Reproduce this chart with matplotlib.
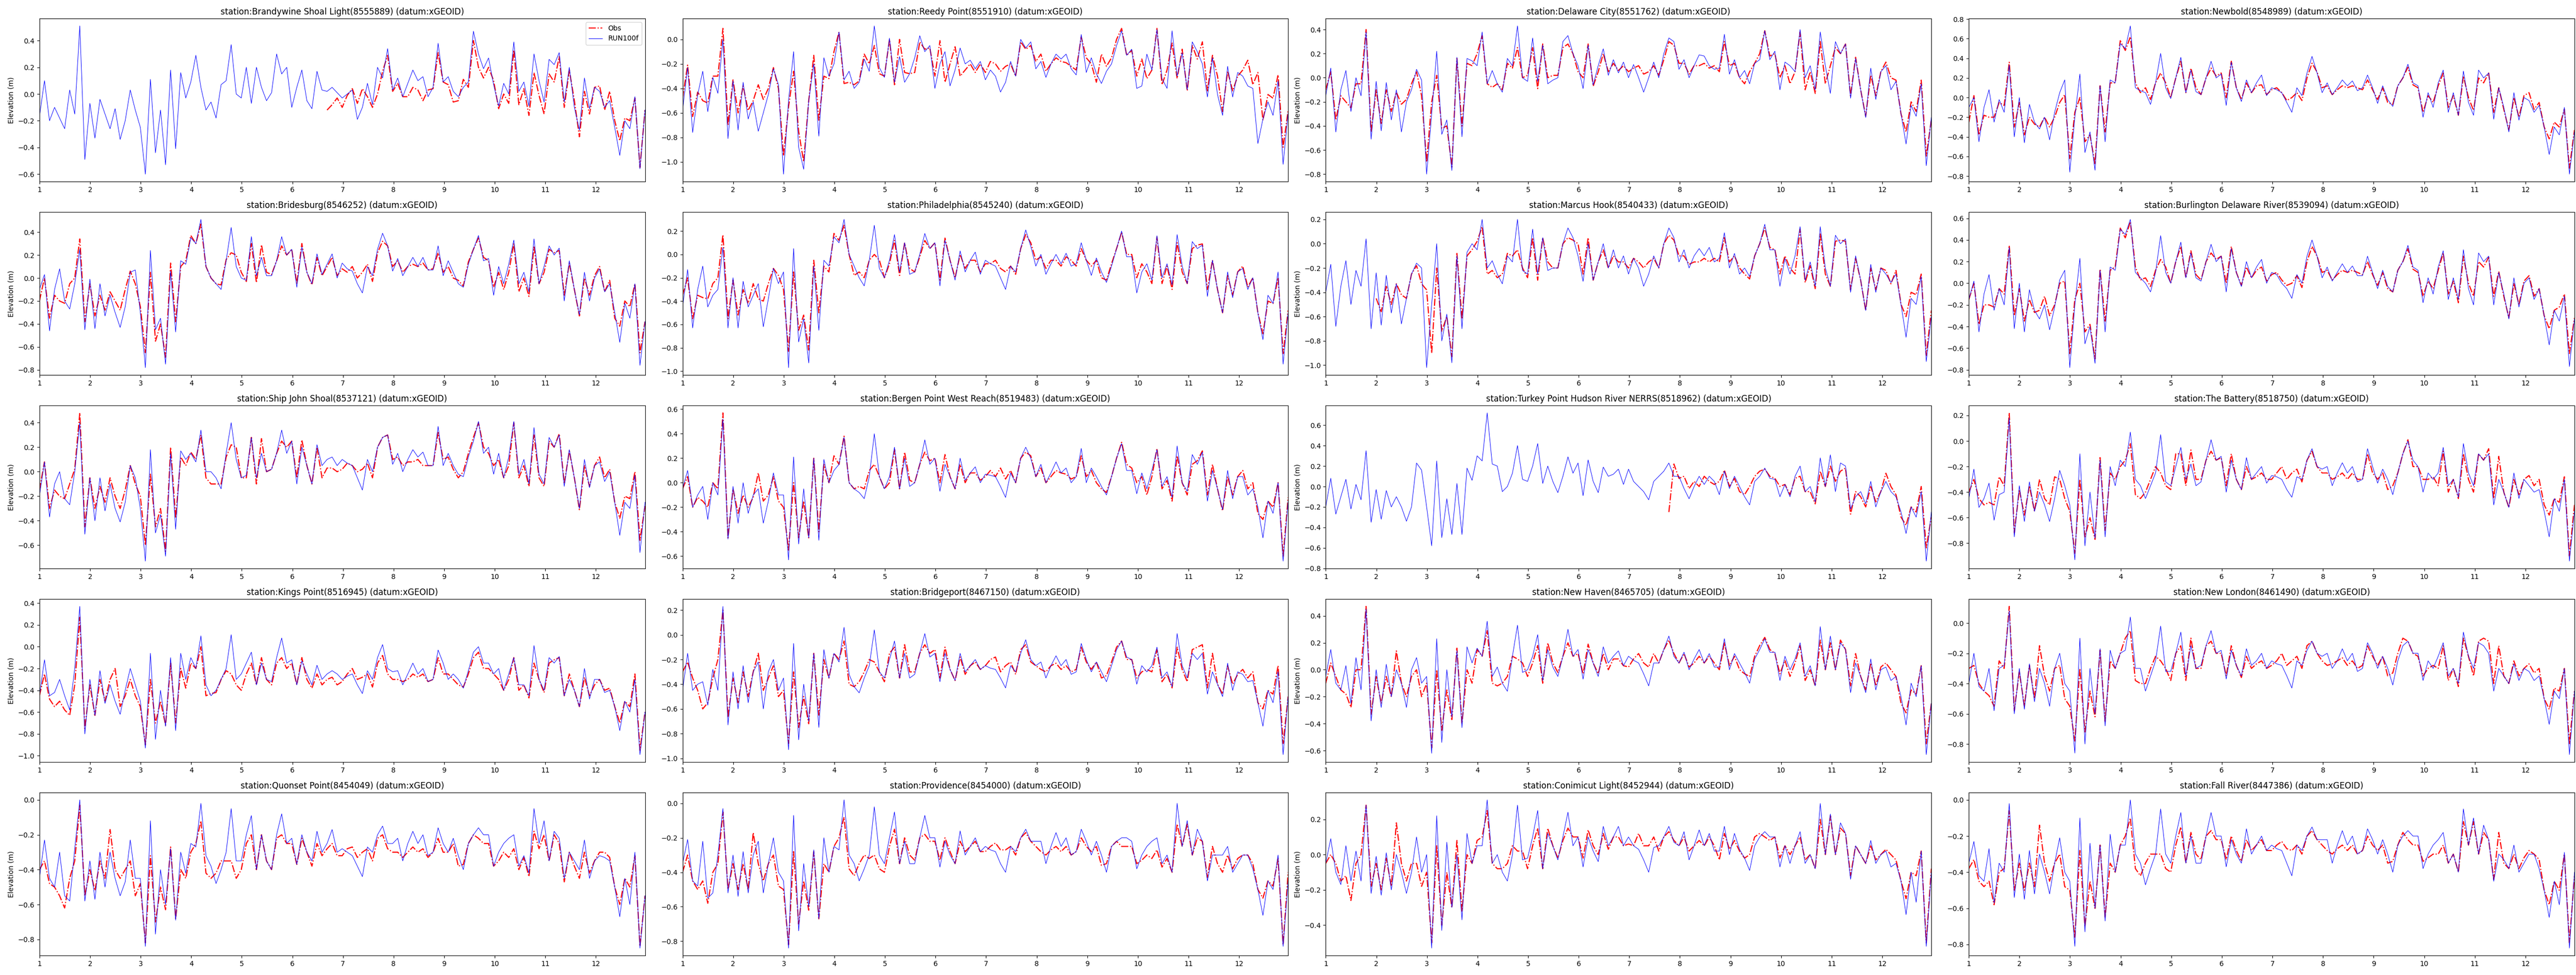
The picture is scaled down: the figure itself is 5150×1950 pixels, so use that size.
import numpy as np
import matplotlib
matplotlib.use("Agg")
import matplotlib.pyplot as plt

# ---------------- data ----------------
T_START = 1.0
T_END = 12.97
XTICKS = list(range(1, 13))

stations = ["Brandywine Shoal Light", "Reedy Point", "Delaware City", "Newbold",
            "Bridesburg", "Philadelphia", "Marcus Hook", "Burlington Delaware River",
            "Ship John Shoal", "Bergen Point West Reach", "Turkey Point Hudson River NERRS", "The Battery",
            "Kings Point", "Bridgeport", "New Haven", "New London",
            "Quonset Point", "Providence", "Conimicut Light", "Fall River"]
station_ids = ["8555889", "8551910", "8551762", "8548989",
               "8546252", "8545240", "8540433", "8539094",
               "8537121", "8519483", "8518962", "8518750",
               "8516945", "8467150", "8465705", "8461490",
               "8454049", "8454000", "8452944", "8447386"]

# number of missing (not observed) samples at the start of each Obs record
obs_missing_start = [57, 0, 0, 0, 0, 0, 10, 0, 0, 0, 68, 0, 0, 0, 0, 0, 0, 0, 0, 0]

run_brandywine = [
    -0.17, 0.1, -0.2, -0.1, -0.18, -0.26, 0.03, -0.15, 0.51, -0.49,
    -0.07, -0.33, -0.04, -0.15, -0.26, -0.11, -0.34, -0.2, 0.03, -0.12,
    -0.25, -0.6, 0.11, -0.44, -0.12, -0.53, 0.18, -0.41, 0.16, -0.03,
    0.09, 0.29, 0.05, -0.12, -0.06, -0.18, 0.07, 0.1, 0.37, 0.0,
    -0.03, 0.2, -0.07, 0.2, 0.05, -0.05, 0.01, 0.3, 0.15, 0.2,
    -0.1, 0.05, 0.18, -0.05, -0.11, 0.17, 0.03, 0.02, 0.05, 0.01,
    -0.03, 0.0, 0.03, -0.19, -0.1, 0.08, -0.08, 0.2, 0.12, 0.34,
    0.03, 0.12, -0.02, 0.08, 0.18, 0.1, 0.13, -0.02, 0.05, 0.38,
    0.09, 0.13, 0.02, -0.02, 0.05, 0.09, 0.47, 0.3, 0.19, 0.27,
    0.07, -0.09, 0.08, 0.0, 0.39, 0.02, 0.09, -0.09, 0.3, 0.1,
    -0.06, 0.26, 0.22, 0.31, -0.06, 0.2, -0.1, -0.27, 0.12, -0.11,
    0.05, 0.02, -0.1, -0.05, -0.25, -0.46, -0.2, -0.26, -0.02, -0.56, -0.12]
obs_brandywine = [
    -0.12, -0.08, -0.03,
    -0.1, -0.01, 0.04, -0.07, 0.04, -0.02, -0.1, 0.0, 0.17, 0.29,
    0.02, 0.08, -0.02, -0.02, 0.05, 0.03, -0.05, 0.03, 0.04, 0.31,
    0.09, 0.07, -0.06, -0.05, 0.11, 0.05, 0.4, 0.2, 0.12, 0.2,
    0.1, -0.11, 0.0, -0.07, 0.33, -0.08, 0.04, -0.16, 0.16, -0.01,
    -0.15, 0.15, 0.09, 0.28, -0.1, 0.18, -0.05, -0.32, 0.02, -0.15,
    0.05, 0.06, -0.12, 0.02, -0.2, -0.35, -0.18, -0.2, -0.03, -0.55, -0.12]

run_reedy = [
    -0.58, -0.23, -0.76, -0.45, -0.26, -0.59, -0.31, -0.44, 0.0, -0.81,
    -0.34, -0.74, -0.35, -0.65, -0.51, -0.75, -0.6, -0.45, -0.24, -0.37,
    -1.1, -0.5, -0.1, -0.88, -1.06, -0.5, -0.2, -0.79, -0.15, -0.3,
    -0.2, 0.06, -0.33, -0.26, -0.4, -0.35, -0.16, -0.26, 0.11, -0.23,
    -0.31, 0.01, -0.35, -0.14, -0.35, -0.28, -0.15, 0.03, -0.1, -0.05,
    -0.4, -0.2, -0.1, -0.38, -0.25, -0.07, -0.2, -0.17, -0.24, -0.18,
    -0.33, -0.25, -0.3, -0.43, -0.35, -0.18, -0.3, 0.0, -0.07, -0.02,
    -0.24, -0.18, -0.31, -0.2, -0.12, -0.16, -0.12, -0.24, -0.29, 0.04,
    -0.27, -0.15, -0.28, -0.36, -0.26, -0.2, -0.05, 0.07, -0.13, -0.08,
    -0.4, -0.38, -0.12, -0.25, 0.08, -0.32, -0.4, 0.07, -0.3, -0.11,
    -0.41, -0.02, -0.1, -0.2, -0.47, -0.15, -0.45, -0.62, -0.22, -0.47,
    -0.27, -0.3, -0.38, -0.4, -0.85, -0.65, -0.51, -0.62, -0.34, -1.02, -0.6]
obs_reedy = [
    -0.48, -0.21, -0.63, -0.43, -0.5, -0.52, -0.3, -0.3, 0.09, -0.7,
    -0.33, -0.6, -0.38, -0.58, -0.5, -0.37, -0.49, -0.4, -0.23, -0.4,
    -0.95, -0.55, -0.26, -0.75, -1.0, -0.5, -0.13, -0.66, -0.3, -0.32,
    -0.1, 0.06, -0.36, -0.35, -0.37, -0.34, -0.12, -0.2, -0.05, -0.28,
    -0.3, 0.0, -0.37, 0.0, -0.27, -0.28, -0.27, -0.02, -0.08, -0.07,
    -0.3, -0.01, -0.35, -0.2, -0.06, -0.3, -0.25, -0.2, -0.27, -0.2,
    -0.27, -0.18, -0.2, -0.26, -0.22, -0.2, -0.3, -0.02, -0.08, -0.05,
    -0.18, -0.12, -0.26, -0.2, -0.15, -0.18, -0.19, -0.22, -0.25, 0.02,
    -0.15, -0.2, -0.35, -0.12, -0.22, -0.15, 0.0, 0.09, -0.13, -0.09,
    -0.3, -0.16, -0.32, -0.25, 0.09, -0.37, -0.25, -0.03, -0.32, -0.08,
    -0.42, -0.05, -0.16, -0.02, -0.42, -0.13, -0.3, -0.59, -0.26, -0.42,
    -0.3, -0.25, -0.17, -0.37, -0.27, -0.66, -0.45, -0.48, -0.29, -0.88, -0.58]

run_delaware_city = [
    -0.15, 0.08, -0.45, -0.1, 0.06, -0.28, 0.0, -0.15, 0.38, -0.51,
    -0.03, -0.44, -0.04, -0.35, -0.1, -0.45, -0.2, -0.1, 0.07, -0.02,
    -0.8, -0.3, 0.22, -0.47, -0.35, -0.77, 0.17, -0.49, 0.16, 0.14,
    0.1, 0.38, -0.05, 0.06, -0.05, -0.12, 0.16, 0.1, 0.43, 0.0,
    -0.03, 0.33, -0.03, 0.27, -0.05, -0.02, 0.0, 0.3, 0.35, 0.2,
    0.1, -0.09, 0.27, -0.06, 0.1, 0.24, 0.02, 0.15, 0.04, 0.13,
    0.0, 0.11, 0.0, -0.12, 0.0, 0.13, 0.0, 0.2, 0.33, 0.3,
    0.07, 0.15, 0.0, 0.1, 0.19, 0.18, 0.1, 0.07, 0.08, 0.36,
    0.03, 0.15, 0.0, 0.06, -0.05, 0.12, 0.15, 0.39, 0.15, 0.22,
    -0.1, 0.13, 0.1, 0.05, 0.4, 0.0, 0.1, -0.1, 0.38, 0.1,
    -0.13, 0.3, 0.2, 0.28, -0.17, 0.16, -0.1, -0.33, 0.08, -0.18,
    0.05, 0.1, -0.1, -0.03, -0.3, -0.55, -0.23, -0.32, -0.05, -0.73, -0.33]
obs_delaware_city = [
    -0.1, 0.05, -0.35, -0.15, -0.2, -0.25, -0.05, -0.05, 0.4, -0.45,
    -0.1, -0.38, -0.1, -0.28, -0.12, -0.22, -0.18, -0.05, 0.05, -0.15,
    -0.7, -0.2, 0.02, -0.42, -0.4, -0.74, 0.16, -0.4, 0.12, 0.1,
    0.2, 0.35, -0.05, -0.08, -0.05, -0.1, 0.12, 0.08, 0.25, 0.0,
    0.02, 0.25, -0.09, 0.28, 0.0, 0.02, 0.02, 0.25, 0.28, 0.2,
    0.05, 0.0, 0.28, -0.07, 0.05, 0.2, 0.05, 0.12, 0.06, 0.1,
    0.05, 0.08, 0.1, 0.03, 0.05, 0.1, 0.02, 0.15, 0.3, 0.27,
    0.12, 0.12, 0.03, 0.1, 0.1, 0.12, 0.08, 0.1, 0.05, 0.3,
    0.1, 0.12, 0.0, -0.05, 0.05, 0.12, 0.2, 0.39, 0.18, 0.2,
    0.0, 0.1, -0.05, 0.05, 0.38, -0.1, 0.05, -0.13, 0.3, -0.05,
    0.1, 0.25, 0.2, 0.28, -0.15, 0.17, -0.1, -0.32, 0.02, -0.15,
    0.05, 0.13, 0.0, -0.02, -0.3, -0.45, -0.2, -0.28, -0.02, -0.65, -0.35]

run_newbold = [
    -0.1, 0.0, -0.45, -0.1, 0.08, -0.25, -0.02, -0.15, 0.33, -0.4,
    0.0, -0.46, -0.07, -0.25, -0.32, -0.2, -0.43, -0.15, 0.05, 0.18,
    -0.76, -0.2, 0.24, -0.56, -0.35, -0.74, 0.12, -0.45, 0.18, 0.15,
    0.55, 0.5, 0.73, 0.1, 0.07, 0.05, -0.07, 0.15, 0.45, 0.1,
    -0.01, 0.2, 0.41, 0.05, 0.28, 0.06, 0.03, 0.2, 0.37, 0.2,
    0.24, -0.08, 0.36, 0.1, -0.04, 0.18, 0.05, 0.15, 0.23, 0.02,
    0.1, 0.08, 0.05, -0.05, -0.15, 0.1, 0.02, 0.25, 0.42, 0.25,
    0.05, 0.15, 0.03, 0.1, 0.18, 0.12, 0.17, 0.07, 0.1, 0.23,
    0.1, -0.06, 0.12, -0.02, -0.09, 0.12, 0.2, 0.34, 0.15, 0.12,
    -0.2, 0.05, -0.1, 0.15, 0.28, -0.15, 0.05, -0.18, 0.27, -0.05,
    -0.18, 0.28, 0.2, 0.25, -0.22, 0.1, -0.1, -0.35, 0.05, -0.23,
    0.0, -0.03, -0.15, -0.08, -0.3, -0.58, -0.3, -0.38, -0.1, -0.78, -0.35]
obs_newbold = [
    -0.25, 0.02, -0.38, -0.18, -0.2, -0.2, -0.05, -0.08, 0.36, -0.3,
    -0.05, -0.38, -0.2, -0.27, -0.3, -0.2, -0.3, -0.2, -0.05, 0.03,
    -0.62, -0.15, 0.0, -0.45, -0.38, -0.68, 0.12, -0.35, 0.15, 0.15,
    0.58, 0.48, 0.62, 0.15, 0.05, 0.1, -0.02, 0.15, 0.25, 0.15,
    0.0, 0.2, 0.37, 0.05, 0.3, 0.1, 0.03, 0.2, 0.3, 0.22,
    0.25, 0.0, 0.37, 0.1, -0.02, 0.15, 0.05, 0.12, 0.13, 0.03,
    0.08, 0.1, 0.05, -0.03, 0.0, 0.05, -0.03, 0.2, 0.35, 0.26,
    0.1, 0.12, 0.03, 0.08, 0.12, 0.1, 0.12, 0.1, 0.08, 0.18,
    0.08, -0.02, 0.1, -0.05, -0.07, 0.12, 0.2, 0.31, 0.13, 0.1,
    -0.15, 0.02, -0.05, 0.12, 0.25, -0.1, 0.02, -0.18, 0.22, 0.0,
    -0.13, 0.2, 0.15, 0.25, -0.15, 0.1, -0.12, -0.33, 0.0, -0.2,
    0.02, 0.05, -0.12, -0.05, -0.3, -0.42, -0.25, -0.3, -0.12, -0.72, -0.33]

run_bridesburg = [
    -0.1, 0.03, -0.46, -0.1, 0.08, -0.2, -0.27, -0.05, 0.25, -0.45,
    -0.01, -0.44, -0.05, -0.33, -0.15, -0.3, -0.43, -0.25, 0.05, 0.07,
    -0.3, -0.78, 0.24, -0.45, -0.35, -0.75, 0.06, -0.47, 0.15, 0.12,
    0.35, 0.3, 0.51, 0.1, 0.0, -0.05, -0.1, 0.15, 0.44, 0.1,
    0.0, -0.02, 0.36, 0.02, 0.18, 0.02, 0.02, 0.15, 0.36, 0.2,
    0.25, -0.08, 0.27, 0.05, -0.05, 0.21, 0.03, 0.12, 0.21, 0.0,
    0.13, 0.08, 0.06, -0.05, -0.13, 0.1, 0.02, 0.25, 0.39, 0.28,
    0.06, 0.17, 0.02, 0.1, 0.18, 0.1, 0.18, 0.07, 0.07, 0.28,
    0.02, 0.15, 0.05, -0.05, -0.08, 0.12, 0.25, 0.37, 0.15, 0.17,
    -0.15, 0.1, -0.05, 0.12, 0.33, -0.05, 0.05, -0.12, 0.34, -0.05,
    0.1, 0.28, 0.2, 0.26, -0.2, 0.15, -0.1, -0.32, 0.05, -0.2,
    0.0, 0.08, -0.12, -0.05, -0.3, -0.56, -0.22, -0.35, -0.05, -0.76, -0.38]
obs_bridesburg = [
    -0.2, 0.0, -0.35, -0.15, -0.2, -0.22, -0.05, 0.0, 0.34, -0.38,
    -0.05, -0.33, -0.15, -0.28, -0.12, -0.2, -0.28, -0.1, 0.06, -0.05,
    -0.25, -0.65, 0.05, -0.55, -0.4, -0.69, 0.13, -0.38, 0.1, 0.15,
    0.37, 0.3, 0.47, 0.1, 0.0, -0.05, -0.06, 0.16, 0.22, 0.2,
    0.05, -0.03, 0.3, -0.04, 0.29, 0.05, 0.03, 0.15, 0.28, 0.2,
    0.25, -0.05, 0.3, 0.05, -0.06, 0.18, 0.02, 0.1, 0.18, 0.02,
    0.08, 0.05, 0.1, 0.0, 0.05, 0.12, -0.03, 0.22, 0.32, 0.28,
    0.1, 0.15, 0.05, 0.1, 0.12, 0.1, 0.13, 0.07, 0.08, 0.22,
    0.05, 0.1, 0.0, -0.02, -0.07, 0.14, 0.25, 0.35, 0.18, 0.15,
    -0.08, 0.05, -0.1, 0.05, 0.3, -0.12, 0.0, -0.16, 0.27, -0.05,
    0.05, 0.25, 0.22, 0.24, -0.15, 0.13, -0.1, -0.33, 0.0, -0.15,
    0.02, 0.1, -0.12, -0.02, -0.35, -0.42, -0.2, -0.25, -0.05, -0.65, -0.38]

run_philadelphia = [
    -0.45, -0.13, -0.63, -0.3, -0.1, -0.45, -0.35, -0.3, 0.06, -0.63,
    -0.2, -0.63, -0.23, -0.45, -0.35, -0.25, -0.62, -0.38, -0.12, -0.25,
    -0.15, -0.97, 0.05, -0.75, -0.55, -0.93, -0.1, -0.65, -0.05, -0.1,
    0.15, 0.1, 0.3, 0.0, -0.1, -0.2, -0.27, -0.05, 0.25, -0.12,
    -0.2, -0.05, 0.17, -0.15, 0.1, -0.17, -0.15, 0.0, 0.18, 0.05,
    0.1, -0.27, 0.12, -0.05, -0.22, 0.03, -0.15, -0.05, 0.02, -0.17,
    -0.05, -0.08, -0.1, -0.2, -0.3, -0.1, -0.15, 0.05, 0.21, 0.07,
    -0.1, 0.0, -0.17, -0.08, 0.0, -0.08, 0.01, -0.1, -0.08, 0.1,
    -0.05, -0.18, -0.03, -0.15, -0.24, -0.1, 0.05, 0.2, -0.02, -0.02,
    -0.33, -0.15, -0.08, -0.22, 0.16, -0.2, -0.08, -0.26, 0.17, -0.1,
    -0.25, 0.11, 0.05, 0.08, -0.36, -0.05, -0.3, -0.5, -0.15, -0.37,
    -0.15, -0.12, -0.3, -0.2, -0.5, -0.73, -0.35, -0.42, -0.15, -0.94, -0.5]
obs_philadelphia = [
    -0.35, -0.2, -0.55, -0.35, -0.37, -0.38, -0.25, -0.2, 0.17, -0.55,
    -0.22, -0.52, -0.3, -0.42, -0.25, -0.38, -0.4, -0.25, -0.12, -0.18,
    -0.3, -0.83, -0.15, -0.65, -0.52, -0.82, -0.05, -0.5, -0.1, -0.15,
    0.18, 0.12, 0.25, 0.0, -0.18, -0.15, -0.2, -0.05, 0.0, -0.05,
    -0.2, -0.08, 0.12, -0.18, 0.1, -0.12, -0.15, -0.02, 0.12, 0.05,
    0.1, -0.22, 0.14, -0.05, -0.2, 0.0, -0.12, -0.05, -0.05, -0.15,
    -0.08, -0.08, -0.05, -0.12, -0.15, -0.1, -0.17, 0.05, 0.17, 0.1,
    -0.05, -0.02, -0.12, -0.05, -0.05, -0.1, -0.02, -0.05, -0.1, 0.05,
    -0.05, -0.1, -0.05, -0.2, -0.22, -0.08, 0.05, 0.19, 0.0, 0.0,
    -0.2, -0.08, -0.15, -0.25, 0.15, -0.25, -0.1, -0.3, 0.1, -0.15,
    -0.25, 0.05, 0.08, 0.09, -0.3, -0.05, -0.3, -0.5, -0.18, -0.35,
    -0.15, -0.1, -0.28, -0.2, -0.5, -0.68, -0.4, -0.42, -0.2, -0.85, -0.48]

run_marcus_hook = [
    -0.4, -0.17, -0.68, -0.35, -0.14, -0.5, -0.22, -0.35, 0.04, -0.7,
    -0.24, -0.67, -0.26, -0.57, -0.33, -0.66, -0.45, -0.25, -0.16, -0.2,
    -1.02, -0.5, 0.0, -0.8, -0.58, -0.98, -0.1, -0.7, -0.07, 0.0,
    -0.05, 0.2, -0.2, -0.14, -0.25, -0.33, -0.1, -0.15, 0.2, -0.22,
    -0.25, 0.12, -0.25, 0.05, -0.22, -0.2, -0.2, 0.0, 0.13, 0.05,
    -0.1, -0.31, 0.0, -0.3, -0.15, 0.0, -0.2, -0.05, -0.2, -0.1,
    -0.25, -0.12, -0.2, -0.35, -0.25, -0.1, -0.2, 0.0, 0.13, 0.05,
    -0.15, -0.05, -0.2, -0.1, -0.04, -0.1, -0.03, -0.15, -0.12, 0.09,
    -0.2, -0.08, -0.25, -0.2, -0.27, -0.1, 0.0, 0.16, -0.05, -0.05,
    -0.35, -0.12, -0.25, -0.1, 0.14, -0.3, -0.15, -0.35, 0.14, -0.2,
    -0.35, 0.07, 0.0, 0.04, -0.4, -0.1, -0.3, -0.55, -0.17, -0.4,
    -0.2, -0.25, -0.32, -0.25, -0.5, -0.77, -0.45, -0.5, -0.27, -0.97, -0.6]
obs_marcus_hook = [
    -0.45, -0.56, -0.35, -0.5, -0.33, -0.42, -0.45, -0.25, -0.18, -0.33,
    -0.38, -0.9, -0.2, -0.72, -0.6, -0.93, -0.08, -0.62, -0.1, -0.05,
    0.02, 0.14, -0.25, -0.22, -0.28, -0.25, -0.08, -0.1, -0.05, -0.2,
    -0.28, 0.05, -0.3, 0.05, -0.15, -0.2, -0.2, 0.0, 0.05, 0.03,
    0.0, -0.25, 0.05, -0.3, -0.15, -0.05, -0.2, -0.1, -0.15, -0.15,
    -0.2, -0.12, -0.15, -0.2, -0.15, -0.12, -0.2, 0.0, 0.07, 0.03,
    -0.1, -0.1, -0.17, -0.15, -0.15, -0.12, -0.15, -0.12, -0.15, 0.05,
    -0.15, -0.1, -0.2, -0.25, -0.29, -0.1, 0.0, 0.13, -0.03, -0.05,
    -0.25, -0.1, -0.2, -0.25, 0.12, -0.32, -0.18, -0.37, 0.08, -0.25,
    -0.35, 0.02, 0.03, 0.02, -0.38, -0.12, -0.3, -0.55, -0.2, -0.38,
    -0.2, -0.22, -0.33, -0.22, -0.5, -0.6, -0.4, -0.42, -0.25, -0.92, -0.55]

run_burlington = [
    -0.15, 0.02, -0.45, -0.1, 0.08, -0.25, -0.05, -0.2, 0.33, -0.42,
    0.0, -0.45, -0.06, -0.25, -0.33, -0.2, -0.43, -0.22, 0.03, 0.12,
    -0.78, -0.2, 0.23, -0.56, -0.4, -0.74, 0.12, -0.45, 0.15, 0.12,
    0.5, 0.45, 0.59, 0.1, 0.05, 0.0, -0.08, 0.1, 0.44, 0.1,
    0.0, 0.2, 0.38, 0.05, 0.28, 0.05, 0.02, 0.2, 0.36, 0.2,
    0.25, -0.08, 0.32, 0.1, -0.03, 0.2, 0.05, 0.15, 0.22, 0.0,
    0.1, 0.08, 0.0, -0.05, -0.14, 0.08, 0.0, 0.25, 0.4, 0.25,
    0.05, 0.15, 0.02, 0.1, 0.18, 0.1, 0.16, 0.07, 0.07, 0.25,
    0.1, -0.05, 0.12, -0.03, -0.08, 0.12, 0.2, 0.35, 0.15, 0.12,
    -0.18, 0.05, -0.1, 0.15, 0.3, -0.15, 0.05, -0.15, 0.31, -0.05,
    -0.2, 0.28, 0.2, 0.25, -0.2, 0.1, -0.1, -0.33, 0.05, -0.22,
    0.0, 0.05, -0.15, -0.05, -0.3, -0.57, -0.25, -0.35, -0.12, -0.77, -0.33]
obs_burlington = [
    -0.15, 0.0, -0.38, -0.2, -0.2, -0.22, -0.05, -0.1, 0.35, -0.3,
    -0.05, -0.35, -0.15, -0.27, -0.25, -0.12, -0.3, -0.2, 0.0, 0.02,
    -0.65, -0.15, 0.0, -0.45, -0.38, -0.7, 0.13, -0.35, 0.12, 0.15,
    0.51, 0.42, 0.57, 0.15, 0.03, 0.05, -0.03, 0.12, 0.22, 0.15,
    0.0, 0.2, 0.34, 0.05, 0.3, 0.08, 0.03, 0.2, 0.28, 0.22,
    0.25, 0.0, 0.34, 0.1, -0.02, 0.15, 0.05, 0.12, 0.15, 0.02,
    0.08, 0.1, 0.03, -0.02, 0.0, 0.07, -0.04, 0.2, 0.34, 0.25,
    0.1, 0.12, 0.03, 0.08, 0.12, 0.1, 0.12, 0.1, 0.08, 0.2,
    0.08, -0.02, 0.1, -0.05, -0.08, 0.12, 0.2, 0.32, 0.13, 0.1,
    -0.12, 0.02, -0.05, 0.12, 0.28, -0.1, 0.02, -0.18, 0.25, 0.0,
    -0.12, 0.2, 0.15, 0.24, -0.12, 0.11, -0.12, -0.32, 0.0, -0.2,
    0.02, 0.07, -0.12, -0.05, -0.3, -0.42, -0.25, -0.22, -0.1, -0.65, -0.32]

run_ship_john = [
    -0.2, 0.08, -0.37, -0.1, 0.0, -0.22, -0.27, 0.0, 0.4, -0.51,
    -0.05, -0.4, -0.05, -0.32, -0.1, -0.3, -0.41, -0.25, 0.05, -0.05,
    -0.3, -0.73, 0.18, -0.5, -0.35, -0.69, 0.15, -0.47, 0.17, 0.1,
    0.15, 0.08, 0.34, 0.0, 0.0, -0.05, -0.14, 0.15, 0.4, 0.1,
    -0.05, -0.03, 0.28, -0.05, 0.15, 0.0, 0.02, 0.15, 0.34, 0.15,
    0.25, -0.1, 0.2, 0.05, -0.1, 0.22, 0.05, 0.1, 0.12, 0.05,
    0.1, 0.07, 0.05, -0.05, -0.15, 0.1, 0.0, 0.2, 0.28, 0.3,
    0.06, 0.15, 0.0, 0.1, 0.18, 0.12, 0.16, 0.05, 0.05, 0.37,
    0.05, 0.15, 0.05, -0.02, -0.04, 0.12, 0.25, 0.41, 0.15, 0.2,
    -0.02, 0.15, -0.05, 0.12, 0.41, -0.02, 0.1, -0.1, 0.36, -0.02,
    -0.1, 0.28, 0.2, 0.3, -0.12, 0.18, -0.05, -0.3, 0.1, -0.13,
    0.05, 0.08, -0.08, 0.0, -0.25, -0.52, -0.25, -0.3, -0.03, -0.66, -0.25]
obs_ship_john = [
    -0.15, 0.08, -0.3, -0.15, -0.2, -0.22, -0.1, 0.02, 0.48, -0.45,
    -0.05, -0.3, -0.12, -0.25, -0.05, -0.2, -0.3, -0.15, 0.05, -0.1,
    -0.2, -0.6, -0.02, -0.45, -0.3, -0.65, 0.2, -0.38, 0.12, 0.05,
    0.16, 0.1, 0.3, -0.05, -0.1, -0.1, -0.1, 0.12, 0.22, 0.2,
    -0.05, -0.05, 0.28, -0.1, 0.27, 0.0, 0.02, 0.15, 0.25, 0.2,
    0.25, -0.05, 0.26, 0.05, -0.1, 0.2, -0.05, 0.03, 0.03, 0.0,
    0.02, 0.07, 0.05, 0.0, 0.02, 0.07, -0.05, 0.2, 0.28, 0.3,
    0.1, 0.12, 0.05, 0.08, 0.08, 0.1, 0.05, 0.05, 0.05, 0.32,
    0.1, 0.12, 0.02, -0.05, 0.0, 0.15, 0.28, 0.4, 0.2, 0.15,
    0.05, 0.1, -0.05, 0.05, 0.4, -0.05, 0.05, -0.12, 0.3, -0.05,
    -0.12, 0.25, 0.2, 0.31, -0.1, 0.17, -0.05, -0.31, 0.05, -0.12,
    0.05, 0.12, -0.05, 0.02, -0.25, -0.38, -0.2, -0.22, 0.0, -0.56, -0.28]

run_bergen = [
    -0.05, 0.1, -0.2, -0.1, -0.03, -0.3, 0.0, -0.1, 0.52, -0.46,
    -0.03, -0.33, 0.0, -0.25, -0.1, -0.05, -0.33, -0.15, 0.08, -0.1,
    -0.1, -0.63, 0.21, -0.5, -0.05, -0.45, 0.2, -0.47, 0.19, 0.0,
    0.1, 0.15, 0.37, 0.0, -0.05, -0.08, -0.13, 0.05, 0.4, 0.05,
    -0.05, 0.05, 0.29, -0.05, 0.2, -0.03, 0.0, 0.15, 0.35, 0.15,
    0.2, -0.07, 0.15, 0.05, -0.05, 0.2, 0.02, 0.08, 0.13, 0.0,
    0.07, 0.06, 0.05, -0.03, -0.12, 0.08, 0.0, 0.2, 0.29, 0.2,
    0.05, 0.15, 0.0, 0.08, 0.17, 0.08, 0.12, 0.0, 0.05, 0.28,
    0.0, 0.12, 0.05, -0.03, -0.1, 0.05, 0.2, 0.32, 0.1, 0.1,
    -0.09, 0.08, -0.05, 0.1, 0.27, -0.03, 0.05, -0.12, 0.3, 0.0,
    -0.07, 0.23, 0.15, 0.25, -0.15, 0.1, -0.05, -0.22, 0.1, -0.13,
    0.05, 0.05, -0.1, -0.05, -0.2, -0.45, -0.15, -0.25, 0.0, -0.64, -0.15]
obs_bergen = [
    -0.05, 0.05, -0.2, -0.12, -0.15, -0.2, 0.0, -0.05, 0.57, -0.45,
    -0.05, -0.25, -0.1, -0.2, -0.12, 0.08, -0.15, -0.1, 0.05, -0.15,
    -0.2, -0.55, 0.0, -0.45, -0.15, -0.45, 0.2, -0.4, 0.15, 0.0,
    0.22, 0.15, 0.38, 0.0, -0.05, -0.03, -0.05, 0.1, 0.15, 0.05,
    -0.05, 0.0, 0.27, -0.05, 0.25, 0.02, 0.0, 0.15, 0.25, 0.18,
    0.2, 0.0, 0.23, 0.05, -0.05, 0.15, 0.0, 0.08, 0.08, 0.02,
    0.05, 0.1, 0.05, 0.12, 0.03, 0.1, 0.0, 0.2, 0.25, 0.22,
    0.05, 0.12, 0.0, 0.05, 0.1, 0.08, 0.07, 0.03, 0.05, 0.22,
    0.05, 0.1, 0.0, -0.05, -0.08, 0.05, 0.2, 0.33, 0.15, 0.12,
    0.0, 0.05, -0.1, 0.05, 0.28, -0.05, 0.02, -0.15, 0.22, 0.0,
    -0.1, 0.15, 0.18, 0.26, -0.1, 0.15, -0.05, -0.23, 0.05, -0.1,
    0.05, 0.1, -0.05, 0.0, -0.25, -0.3, -0.15, -0.2, 0.0, -0.6, -0.12]

run_turkey_point = [
    -0.2, 0.08, -0.27, -0.1, 0.07, -0.22, 0.02, -0.13, 0.35, -0.35,
    -0.03, -0.32, -0.04, -0.2, -0.1, -0.2, -0.34, -0.2, 0.23, 0.16,
    -0.2, -0.58, 0.25, -0.5, -0.12, -0.47, 0.03, -0.47, 0.18, 0.06,
    0.3, 0.25, 0.72, 0.22, 0.2, -0.05, 0.0, 0.13, 0.4, 0.07,
    0.05, 0.2, 0.42, 0.03, 0.2, 0.05, -0.06, 0.1, 0.29, 0.13,
    0.23, -0.09, 0.26, 0.05, -0.06, 0.19, 0.1, 0.12, 0.17, 0.02,
    0.17, 0.05, 0.0, -0.05, -0.13, 0.05, 0.1, 0.15, 0.23, 0.1,
    0.1, -0.02, -0.12, 0.0, 0.1, 0.02, 0.1, 0.05, -0.08, 0.15,
    -0.02, 0.1, 0.0, -0.1, -0.18, 0.05, 0.1, 0.18, 0.08, 0.07,
    -0.1, 0.02, -0.1, 0.1, 0.2, -0.05, 0.0, -0.15, 0.28, 0.0,
    0.31, -0.05, 0.23, 0.2, -0.22, -0.1, -0.05, -0.17, 0.05, -0.2,
    -0.05, 0.05, -0.05, -0.1, -0.25, -0.46, -0.2, -0.3, -0.05, -0.73, -0.25]
obs_turkey_point = [
    -0.25, 0.22,
    0.08, 0.1, -0.02, 0.05, 0.0, 0.1, 0.05, 0.02, 0.05, 0.16,
    0.0, 0.08, -0.05, -0.08, 0.0, 0.1, 0.15, 0.17, 0.1, 0.08,
    0.0, 0.02, -0.08, 0.08, 0.1, -0.05, -0.05, -0.17, 0.15, 0.0,
    0.2, 0.05, 0.15, 0.18, -0.27, -0.05, -0.1, -0.2, 0.0, -0.15,
    -0.05, 0.13, 0.0, -0.08, -0.3, -0.38, -0.2, -0.25, 0.0, -0.6, -0.3]

run_battery = [
    -0.45, -0.22, -0.52, -0.45, -0.33, -0.62, -0.42, -0.4, 0.18, -0.75,
    -0.35, -0.63, -0.32, -0.55, -0.4, -0.5, -0.63, -0.45, -0.23, -0.35,
    -0.5, -0.93, -0.1, -0.82, -0.4, -0.76, -0.15, -0.75, -0.2, -0.35,
    -0.15, -0.2, 0.07, -0.3, -0.35, -0.45, -0.35, -0.25, 0.05, -0.32,
    -0.35, -0.2, -0.05, -0.3, -0.18, -0.35, -0.32, -0.15, 0.01, -0.15,
    -0.12, -0.4, -0.15, -0.3, -0.38, -0.13, -0.3, -0.25, -0.2, -0.33,
    -0.27, -0.28, -0.3, -0.38, -0.44, -0.28, -0.3, -0.15, -0.06, -0.2,
    -0.22, -0.2, -0.35, -0.25, -0.17, -0.25, -0.2, -0.32, -0.3, -0.06,
    -0.2, -0.33, -0.22, -0.3, -0.42, -0.25, -0.1, 0.0, -0.15, -0.2,
    -0.4, -0.25, -0.3, -0.25, -0.05, -0.35, -0.3, -0.44, -0.02, -0.25,
    -0.35, -0.1, -0.15, -0.1, -0.5, -0.3, -0.4, -0.52, -0.25, -0.45,
    -0.3, -0.35, -0.4, -0.38, -0.55, -0.75, -0.45, -0.55, -0.3, -0.94, -0.55]
obs_battery = [
    -0.4, -0.3, -0.45, -0.5, -0.48, -0.5, -0.28, -0.35, 0.22, -0.72,
    -0.38, -0.58, -0.35, -0.55, -0.3, -0.45, -0.5, -0.28, -0.3, -0.45,
    -0.55, -0.88, -0.3, -0.75, -0.6, -0.77, -0.13, -0.7, -0.25, -0.3,
    -0.2, -0.15, -0.02, -0.42, -0.45, -0.4, -0.3, -0.2, -0.25, -0.35,
    -0.38, -0.1, -0.1, -0.35, -0.07, -0.3, -0.3, -0.15, -0.08, -0.15,
    -0.13, -0.35, -0.1, -0.3, -0.38, -0.2, -0.3, -0.28, -0.25, -0.3,
    -0.3, -0.25, -0.2, -0.3, -0.25, -0.22, -0.32, -0.15, -0.08, -0.2,
    -0.25, -0.25, -0.3, -0.28, -0.25, -0.3, -0.25, -0.3, -0.3, -0.1,
    -0.25, -0.3, -0.25, -0.38, -0.35, -0.25, -0.1, 0.01, -0.2, -0.2,
    -0.3, -0.3, -0.28, -0.35, -0.08, -0.4, -0.3, -0.45, -0.1, -0.3,
    -0.4, -0.1, -0.15, -0.06, -0.45, -0.12, -0.4, -0.52, -0.3, -0.42,
    -0.3, -0.27, -0.35, -0.3, -0.5, -0.58, -0.45, -0.48, -0.28, -0.9, -0.5]

run_kings_point = [
    -0.45, -0.12, -0.45, -0.42, -0.3, -0.45, -0.58, -0.2, 0.37, -0.8,
    -0.3, -0.63, -0.22, -0.52, -0.35, -0.5, -0.62, -0.4, -0.2, -0.35,
    -0.5, -0.93, -0.06, -0.85, -0.4, -0.73, -0.1, -0.77, -0.06, -0.3,
    -0.1, -0.2, 0.1, -0.35, -0.45, -0.4, -0.3, -0.2, 0.11, -0.3,
    -0.25, -0.15, -0.05, -0.35, -0.15, -0.3, -0.32, -0.1, 0.08, -0.15,
    -0.12, -0.35, -0.13, -0.25, -0.35, -0.17, -0.3, -0.25, -0.22, -0.25,
    -0.3, -0.27, -0.25, -0.35, -0.43, -0.22, -0.3, -0.1, 0.02, -0.2,
    -0.23, -0.22, -0.35, -0.25, -0.15, -0.25, -0.2, -0.32, -0.3, -0.03,
    -0.15, -0.3, -0.25, -0.3, -0.38, -0.22, -0.05, 0.0, -0.15, -0.15,
    -0.25, -0.2, -0.4, -0.25, -0.1, -0.35, -0.35, -0.45, 0.01, -0.3,
    -0.4, -0.1, -0.15, -0.09, -0.45, -0.3, -0.4, -0.55, -0.2, -0.48,
    -0.3, -0.3, -0.42, -0.4, -0.55, -0.77, -0.5, -0.6, -0.3, -0.99, -0.6]
obs_kings_point = [
    -0.45, -0.25, -0.48, -0.55, -0.5, -0.58, -0.63, -0.35, 0.27, -0.75,
    -0.35, -0.63, -0.3, -0.5, -0.3, -0.2, -0.55, -0.45, -0.3, -0.45,
    -0.55, -0.9, -0.3, -0.7, -0.5, -0.72, -0.15, -0.7, -0.2, -0.38,
    -0.15, -0.2, 0.0, -0.45, -0.43, -0.42, -0.3, -0.22, -0.25, -0.35,
    -0.4, -0.25, -0.15, -0.35, -0.1, -0.3, -0.35, -0.15, -0.1, -0.2,
    -0.15, -0.35, -0.1, -0.3, -0.38, -0.25, -0.35, -0.3, -0.28, -0.35,
    -0.32, -0.25, -0.2, -0.3, -0.28, -0.25, -0.37, -0.15, -0.08, -0.25,
    -0.3, -0.3, -0.32, -0.3, -0.25, -0.28, -0.25, -0.32, -0.3, -0.1,
    -0.25, -0.25, -0.3, -0.35, -0.37, -0.25, -0.1, -0.05, -0.2, -0.2,
    -0.25, -0.3, -0.4, -0.3, -0.1, -0.4, -0.35, -0.47, -0.15, -0.3,
    -0.42, -0.15, -0.12, -0.1, -0.45, -0.25, -0.4, -0.55, -0.28, -0.45,
    -0.35, -0.3, -0.4, -0.38, -0.55, -0.7, -0.5, -0.55, -0.25, -0.95, -0.6]

run_bridgeport = [
    -0.45, -0.15, -0.45, -0.4, -0.38, -0.57, -0.28, -0.45, 0.23, -0.73,
    -0.3, -0.6, -0.25, -0.55, -0.3, -0.22, -0.6, -0.3, -0.2, -0.45,
    -0.35, -0.93, -0.07, -0.85, -0.4, -0.7, -0.15, -0.75, -0.12, -0.35,
    -0.15, -0.22, 0.06, -0.32, -0.42, -0.47, -0.35, -0.25, 0.04, -0.3,
    -0.35, -0.2, -0.05, -0.35, -0.15, -0.35, -0.32, -0.15, 0.01, -0.18,
    -0.15, -0.38, -0.15, -0.28, -0.37, -0.15, -0.3, -0.25, -0.2, -0.28,
    -0.25, -0.27, -0.28, -0.35, -0.43, -0.25, -0.3, -0.15, -0.04, -0.2,
    -0.25, -0.22, -0.35, -0.25, -0.17, -0.25, -0.2, -0.32, -0.3, -0.07,
    -0.2, -0.3, -0.22, -0.3, -0.38, -0.25, -0.12, -0.05, -0.18, -0.2,
    -0.4, -0.25, -0.3, -0.25, -0.1, -0.35, -0.3, -0.42, 0.01, -0.25,
    -0.35, -0.15, -0.2, -0.15, -0.48, -0.3, -0.4, -0.5, -0.23, -0.45,
    -0.3, -0.32, -0.38, -0.37, -0.55, -0.74, -0.45, -0.55, -0.3, -0.97, -0.5]
obs_bridgeport = [
    -0.3, -0.22, -0.35, -0.45, -0.6, -0.55, -0.35, -0.2, 0.2, -0.67,
    -0.35, -0.55, -0.3, -0.5, -0.3, -0.15, -0.45, -0.35, -0.25, -0.5,
    -0.45, -0.88, -0.3, -0.75, -0.5, -0.72, -0.15, -0.65, -0.2, -0.35,
    -0.15, -0.2, -0.05, -0.4, -0.42, -0.38, -0.3, -0.2, -0.22, -0.3,
    -0.38, -0.15, -0.1, -0.35, -0.08, -0.3, -0.3, -0.15, -0.08, -0.15,
    -0.12, -0.35, -0.1, -0.28, -0.37, -0.18, -0.32, -0.25, -0.22, -0.28,
    -0.25, -0.2, -0.18, -0.3, -0.25, -0.22, -0.32, -0.12, -0.08, -0.22,
    -0.25, -0.28, -0.3, -0.25, -0.23, -0.28, -0.25, -0.3, -0.28, -0.1,
    -0.22, -0.28, -0.22, -0.35, -0.33, -0.22, -0.1, -0.05, -0.2, -0.2,
    -0.35, -0.3, -0.28, -0.3, -0.12, -0.38, -0.32, -0.43, -0.1, -0.28,
    -0.38, -0.12, -0.1, -0.08, -0.43, -0.15, -0.4, -0.48, -0.25, -0.4,
    -0.32, -0.28, -0.35, -0.3, -0.55, -0.6, -0.45, -0.48, -0.25, -0.88, -0.5]

run_new_haven = [
    -0.05, 0.15, -0.1, -0.15, 0.03, -0.25, 0.09, -0.15, 0.45, -0.38,
    0.0, -0.28, 0.04, -0.2, 0.0, -0.1, -0.28, 0.0, 0.09, -0.1,
    -0.05, -0.62, 0.23, -0.54, 0.0, -0.35, 0.14, -0.43, 0.17, 0.05,
    0.16, 0.1, 0.36, -0.05, 0.02, -0.1, -0.16, 0.1, 0.33, -0.02,
    0.0, 0.1, 0.26, -0.08, 0.15, 0.02, -0.05, 0.1, 0.3, 0.1,
    0.15, -0.07, 0.15, 0.05, -0.05, 0.17, 0.05, 0.1, 0.14, 0.03,
    0.1, 0.07, 0.05, -0.03, -0.12, 0.05, 0.05, 0.15, 0.25, 0.1,
    0.05, 0.13, 0.0, 0.08, 0.15, 0.05, 0.12, 0.02, 0.02, 0.23,
    0.0, 0.12, 0.05, -0.02, -0.1, 0.08, 0.15, 0.23, 0.13, 0.13,
    -0.08, 0.1, 0.0, 0.08, 0.2, -0.05, 0.03, -0.12, 0.32, 0.0,
    0.25, 0.0, 0.2, 0.15, -0.17, 0.05, -0.05, -0.17, 0.08, -0.15,
    0.0, 0.02, -0.08, -0.05, -0.2, -0.41, -0.1, -0.2, 0.03, -0.63, -0.25]
obs_new_haven = [
    -0.1, 0.05, -0.05, -0.15, -0.18, -0.28, 0.0, 0.0, 0.47, -0.33,
    -0.05, -0.25, -0.05, -0.2, 0.14, -0.1, -0.2, -0.05, 0.0, -0.2,
    -0.1, -0.58, 0.0, -0.45, -0.15, -0.37, 0.16, -0.4, 0.0, -0.1,
    0.15, 0.1, 0.29, -0.1, -0.12, -0.1, -0.05, 0.1, 0.08, 0.05,
    -0.05, 0.05, 0.18, -0.1, 0.2, 0.05, -0.02, 0.1, 0.2, 0.1,
    0.12, -0.03, 0.19, 0.05, -0.03, 0.12, 0.0, 0.08, 0.08, 0.03,
    0.02, 0.08, 0.12, 0.05, 0.02, 0.12, 0.05, 0.15, 0.22, 0.12,
    0.05, 0.12, 0.02, 0.05, 0.1, 0.05, 0.1, 0.05, 0.0, 0.2,
    0.03, 0.1, 0.0, -0.03, -0.05, 0.1, 0.18, 0.24, 0.15, 0.12,
    -0.03, 0.07, -0.05, 0.05, 0.18, -0.08, 0.0, -0.12, 0.22, 0.0,
    0.2, 0.0, 0.22, 0.15, -0.12, 0.12, -0.05, -0.15, 0.05, -0.12,
    0.02, 0.05, 0.0, -0.05, -0.25, -0.32, -0.15, -0.18, 0.03, -0.55, -0.25]

run_new_london = [
    -0.4, -0.2, -0.42, -0.45, -0.3, -0.58, -0.3, -0.28, 0.08, -0.6,
    -0.3, -0.57, -0.27, -0.52, -0.3, -0.4, -0.55, -0.3, -0.2, -0.4,
    -0.45, -0.86, -0.1, -0.8, -0.3, -0.6, -0.17, -0.68, -0.18, -0.3,
    -0.2, -0.18, 0.04, -0.3, -0.3, -0.45, -0.35, -0.25, -0.02, -0.32,
    -0.32, -0.2, -0.06, -0.35, -0.15, -0.3, -0.28, -0.15, -0.05, -0.2,
    -0.18, -0.37, -0.18, -0.28, -0.35, -0.17, -0.28, -0.25, -0.2, -0.3,
    -0.25, -0.27, -0.28, -0.35, -0.43, -0.25, -0.28, -0.18, -0.12, -0.2,
    -0.22, -0.2, -0.3, -0.25, -0.17, -0.25, -0.2, -0.32, -0.3, -0.13,
    -0.2, -0.3, -0.22, -0.3, -0.41, -0.25, -0.15, -0.12, -0.2, -0.2,
    -0.38, -0.25, -0.3, -0.22, -0.13, -0.35, -0.3, -0.4, -0.06, -0.22,
    -0.3, -0.13, -0.15, -0.2, -0.45, -0.3, -0.35, -0.4, -0.27, -0.38,
    -0.3, -0.32, -0.38, -0.35, -0.5, -0.67, -0.45, -0.5, -0.3, -0.87, -0.45]
obs_new_london = [
    -0.3, -0.28, -0.4, -0.45, -0.48, -0.55, -0.25, -0.3, 0.11, -0.58,
    -0.32, -0.55, -0.28, -0.5, -0.15, -0.35, -0.45, -0.3, -0.28, -0.5,
    -0.55, -0.78, -0.3, -0.72, -0.45, -0.62, -0.18, -0.65, -0.25, -0.3,
    -0.2, -0.1, -0.05, -0.38, -0.4, -0.4, -0.3, -0.22, -0.25, -0.3,
    -0.38, -0.2, -0.15, -0.38, -0.1, -0.3, -0.3, -0.15, -0.12, -0.2,
    -0.2, -0.35, -0.15, -0.28, -0.36, -0.22, -0.3, -0.27, -0.25, -0.3,
    -0.28, -0.25, -0.2, -0.28, -0.25, -0.22, -0.3, -0.15, -0.12, -0.2,
    -0.25, -0.28, -0.27, -0.25, -0.23, -0.28, -0.25, -0.3, -0.28, -0.15,
    -0.22, -0.28, -0.22, -0.35, -0.33, -0.2, -0.1, -0.12, -0.2, -0.22,
    -0.35, -0.3, -0.28, -0.3, -0.15, -0.38, -0.3, -0.42, -0.1, -0.22,
    -0.35, -0.12, -0.1, -0.12, -0.4, -0.15, -0.35, -0.4, -0.25, -0.35,
    -0.3, -0.27, -0.33, -0.3, -0.5, -0.57, -0.43, -0.45, -0.3, -0.8, -0.45]

run_quonset = [
    -0.45, -0.23, -0.45, -0.5, -0.3, -0.55, -0.58, -0.28, 0.0, -0.58,
    -0.35, -0.57, -0.3, -0.5, -0.3, -0.45, -0.55, -0.47, -0.23, -0.45,
    -0.45, -0.84, -0.12, -0.77, -0.4, -0.6, -0.28, -0.69, -0.3, -0.42,
    -0.25, -0.27, -0.02, -0.32, -0.38, -0.48, -0.4, -0.3, -0.05, -0.35,
    -0.35, -0.2, -0.09, -0.4, -0.2, -0.35, -0.4, -0.2, -0.08, -0.25,
    -0.22, -0.37, -0.2, -0.3, -0.35, -0.18, -0.3, -0.25, -0.17, -0.3,
    -0.28, -0.3, -0.32, -0.38, -0.44, -0.27, -0.3, -0.2, -0.15, -0.25,
    -0.25, -0.22, -0.35, -0.25, -0.18, -0.25, -0.2, -0.32, -0.3, -0.16,
    -0.25, -0.3, -0.22, -0.32, -0.4, -0.25, -0.2, -0.16, -0.2, -0.2,
    -0.38, -0.3, -0.25, -0.22, -0.2, -0.38, -0.32, -0.42, -0.05, -0.25,
    -0.12, -0.35, -0.18, -0.22, -0.45, -0.3, -0.35, -0.4, -0.23, -0.45,
    -0.35, -0.32, -0.33, -0.35, -0.5, -0.67, -0.45, -0.6, -0.3, -0.85, -0.55]
obs_quonset = [
    -0.4, -0.35, -0.48, -0.5, -0.55, -0.62, -0.45, -0.35, -0.03, -0.55,
    -0.4, -0.52, -0.35, -0.45, -0.17, -0.4, -0.45, -0.4, -0.35, -0.55,
    -0.48, -0.82, -0.32, -0.7, -0.5, -0.63, -0.27, -0.68, -0.4, -0.45,
    -0.3, -0.25, -0.12, -0.42, -0.45, -0.42, -0.35, -0.35, -0.35, -0.45,
    -0.4, -0.25, -0.2, -0.4, -0.2, -0.35, -0.4, -0.22, -0.2, -0.25,
    -0.25, -0.37, -0.22, -0.3, -0.38, -0.25, -0.32, -0.28, -0.25, -0.32,
    -0.32, -0.28, -0.27, -0.33, -0.3, -0.28, -0.35, -0.22, -0.2, -0.28,
    -0.3, -0.3, -0.33, -0.3, -0.27, -0.3, -0.28, -0.33, -0.3, -0.22,
    -0.3, -0.3, -0.25, -0.38, -0.37, -0.25, -0.2, -0.22, -0.25, -0.25,
    -0.38, -0.35, -0.3, -0.33, -0.28, -0.4, -0.33, -0.44, -0.18, -0.28,
    -0.2, -0.35, -0.2, -0.25, -0.47, -0.3, -0.38, -0.45, -0.3, -0.42,
    -0.35, -0.3, -0.3, -0.33, -0.5, -0.6, -0.45, -0.5, -0.32, -0.84, -0.55]

run_providence = [
    -0.35, -0.21, -0.45, -0.48, -0.22, -0.55, -0.52, -0.3, -0.03, -0.52,
    -0.3, -0.54, -0.28, -0.52, -0.3, -0.22, -0.52, -0.35, -0.2, -0.4,
    -0.45, -0.84, -0.07, -0.74, -0.35, -0.6, -0.27, -0.67, -0.2, -0.4,
    -0.25, -0.27, 0.02, -0.3, -0.35, -0.45, -0.38, -0.3, -0.02, -0.3,
    -0.35, -0.2, -0.05, -0.35, -0.22, -0.35, -0.35, -0.2, -0.07, -0.2,
    -0.2, -0.37, -0.22, -0.3, -0.35, -0.16, -0.3, -0.25, -0.2, -0.28,
    -0.25, -0.27, -0.28, -0.35, -0.4, -0.25, -0.28, -0.2, -0.15, -0.22,
    -0.22, -0.22, -0.35, -0.25, -0.17, -0.25, -0.2, -0.3, -0.28, -0.15,
    -0.22, -0.3, -0.22, -0.3, -0.4, -0.25, -0.22, -0.2, -0.2, -0.22,
    -0.38, -0.3, -0.25, -0.22, -0.2, -0.35, -0.3, -0.4, 0.0, -0.25,
    -0.1, -0.3, -0.15, -0.22, -0.45, -0.3, -0.3, -0.3, -0.25, -0.4,
    -0.35, -0.3, -0.3, -0.38, -0.5, -0.65, -0.45, -0.5, -0.3, -0.83, -0.45]
obs_providence = [
    -0.4, -0.3, -0.45, -0.5, -0.45, -0.58, -0.4, -0.35, -0.05, -0.5,
    -0.35, -0.5, -0.35, -0.5, -0.17, -0.35, -0.45, -0.35, -0.3, -0.48,
    -0.5, -0.82, -0.28, -0.7, -0.45, -0.62, -0.28, -0.67, -0.35, -0.4,
    -0.25, -0.2, -0.08, -0.38, -0.42, -0.35, -0.3, -0.32, -0.3, -0.38,
    -0.4, -0.25, -0.15, -0.35, -0.2, -0.3, -0.33, -0.2, -0.18, -0.22,
    -0.22, -0.33, -0.2, -0.28, -0.35, -0.22, -0.28, -0.25, -0.22, -0.28,
    -0.28, -0.25, -0.23, -0.27, -0.27, -0.25, -0.3, -0.2, -0.17, -0.22,
    -0.25, -0.28, -0.3, -0.27, -0.25, -0.28, -0.25, -0.3, -0.28, -0.2,
    -0.25, -0.28, -0.25, -0.36, -0.35, -0.25, -0.22, -0.25, -0.25, -0.25,
    -0.35, -0.33, -0.3, -0.32, -0.27, -0.37, -0.32, -0.4, -0.12, -0.25,
    -0.12, -0.3, -0.2, -0.22, -0.43, -0.25, -0.35, -0.4, -0.3, -0.38,
    -0.32, -0.3, -0.3, -0.35, -0.5, -0.55, -0.45, -0.48, -0.32, -0.82, -0.4]

run_conimicut = [
    -0.05, 0.09, -0.1, -0.17, 0.05, -0.15, 0.02, -0.15, 0.28, -0.22,
    -0.01, -0.23, 0.01, -0.2, 0.0, -0.1, -0.22, -0.1, 0.1, -0.1,
    0.0, -0.53, 0.22, -0.43, 0.07, -0.3, 0.0, -0.37, 0.12, -0.05,
    0.05, 0.05, 0.31, -0.05, 0.0, -0.1, -0.15, 0.0, 0.28, -0.03,
    -0.02, 0.1, 0.25, -0.08, 0.12, 0.05, -0.03, 0.1, 0.24, 0.05,
    0.1, -0.07, 0.1, 0.02, -0.04, 0.16, 0.05, 0.1, 0.16, 0.05,
    0.1, 0.05, 0.03, -0.03, -0.1, 0.04, 0.05, 0.1, 0.16, 0.07,
    0.05, 0.13, -0.03, 0.05, 0.14, 0.05, 0.12, 0.02, 0.02, 0.16,
    0.0, 0.12, 0.03, -0.02, -0.09, 0.05, 0.1, 0.13, 0.1, 0.1,
    -0.07, 0.05, -0.05, 0.05, 0.13, -0.05, 0.0, -0.08, 0.29, 0.0,
    0.23, 0.0, 0.18, 0.12, -0.14, 0.05, 0.0, -0.05, 0.08, -0.05,
    0.0, 0.02, -0.07, -0.05, -0.15, -0.34, -0.1, -0.27, 0.02, -0.52, -0.1]
obs_conimicut = [
    -0.05, 0.0, -0.05, -0.15, -0.12, -0.26, -0.05, 0.0, 0.28, -0.18,
    -0.05, -0.2, -0.02, -0.18, 0.18, -0.05, -0.15, -0.05, -0.05, -0.18,
    -0.1, -0.5, 0.05, -0.4, -0.1, -0.3, 0.08, -0.32, 0.0, -0.05,
    0.08, 0.1, 0.25, -0.05, -0.08, -0.08, -0.05, 0.05, 0.02, 0.02,
    -0.08, 0.05, 0.15, -0.08, 0.15, 0.05, -0.02, 0.08, 0.15, 0.1,
    0.1, -0.02, 0.14, 0.05, 0.0, 0.12, 0.03, 0.1, 0.1, 0.05,
    0.06, 0.05, 0.12, 0.05, 0.05, 0.1, 0.02, 0.1, 0.13, 0.08,
    0.05, 0.1, 0.02, 0.05, 0.08, 0.05, 0.1, 0.05, -0.03, 0.12,
    0.03, 0.08, 0.02, -0.02, 0.0, 0.1, 0.12, 0.1, 0.08, 0.1,
    -0.02, 0.05, 0.0, 0.05, 0.1, -0.03, 0.0, -0.08, 0.2, 0.0,
    0.22, 0.0, 0.15, 0.12, -0.12, 0.05, 0.0, -0.05, 0.05, -0.03,
    0.0, 0.03, 0.0, -0.03, -0.15, -0.25, -0.1, -0.12, 0.02, -0.5, -0.08]

run_fall_river = [
    -0.35, -0.23, -0.42, -0.45, -0.27, -0.57, -0.35, -0.4, -0.02, -0.54,
    -0.3, -0.55, -0.28, -0.52, -0.3, -0.4, -0.52, -0.35, -0.21, -0.4,
    -0.45, -0.81, -0.1, -0.73, -0.24, -0.6, -0.25, -0.67, -0.19, -0.4,
    -0.25, -0.25, 0.0, -0.3, -0.35, -0.47, -0.38, -0.3, -0.05, -0.3,
    -0.35, -0.2, -0.07, -0.35, -0.2, -0.35, -0.35, -0.2, -0.07, -0.2,
    -0.2, -0.37, -0.22, -0.3, -0.35, -0.16, -0.3, -0.25, -0.2, -0.28,
    -0.25, -0.27, -0.28, -0.35, -0.42, -0.25, -0.28, -0.2, -0.15, -0.22,
    -0.22, -0.22, -0.35, -0.25, -0.17, -0.25, -0.2, -0.3, -0.28, -0.16,
    -0.22, -0.3, -0.22, -0.3, -0.4, -0.25, -0.2, -0.17, -0.2, -0.2,
    -0.38, -0.3, -0.25, -0.22, -0.18, -0.35, -0.3, -0.4, -0.05, -0.25,
    -0.1, -0.3, -0.14, -0.22, -0.45, -0.3, -0.33, -0.38, -0.25, -0.4,
    -0.35, -0.3, -0.3, -0.38, -0.5, -0.65, -0.45, -0.58, -0.29, -0.82, -0.4]
obs_fall_river = [
    -0.38, -0.33, -0.45, -0.48, -0.45, -0.58, -0.4, -0.38, -0.06, -0.5,
    -0.35, -0.5, -0.35, -0.48, -0.14, -0.35, -0.45, -0.35, -0.3, -0.48,
    -0.5, -0.76, -0.28, -0.7, -0.45, -0.6, -0.25, -0.65, -0.35, -0.4,
    -0.25, -0.2, -0.1, -0.38, -0.42, -0.35, -0.3, -0.3, -0.3, -0.38,
    -0.4, -0.25, -0.15, -0.35, -0.18, -0.3, -0.33, -0.2, -0.17, -0.22,
    -0.22, -0.33, -0.2, -0.28, -0.34, -0.22, -0.28, -0.25, -0.22, -0.28,
    -0.28, -0.25, -0.23, -0.27, -0.28, -0.25, -0.3, -0.2, -0.17, -0.22,
    -0.25, -0.28, -0.3, -0.27, -0.25, -0.28, -0.25, -0.3, -0.28, -0.2,
    -0.25, -0.28, -0.25, -0.35, -0.34, -0.25, -0.18, -0.22, -0.25, -0.25,
    -0.34, -0.32, -0.3, -0.3, -0.25, -0.35, -0.3, -0.4, -0.12, -0.25,
    -0.12, -0.3, -0.18, -0.22, -0.44, -0.18, -0.35, -0.38, -0.3, -0.38,
    -0.32, -0.28, -0.3, -0.33, -0.5, -0.58, -0.45, -0.5, -0.3, -0.79, -0.42]

run_series = [run_brandywine, run_reedy, run_delaware_city, run_newbold,
              run_bridesburg, run_philadelphia, run_marcus_hook, run_burlington,
              run_ship_john, run_bergen, run_turkey_point, run_battery,
              run_kings_point, run_bridgeport, run_new_haven, run_new_london,
              run_quonset, run_providence, run_conimicut, run_fall_river]
obs_series = [obs_brandywine, obs_reedy, obs_delaware_city, obs_newbold,
              obs_bridesburg, obs_philadelphia, obs_marcus_hook, obs_burlington,
              obs_ship_john, obs_bergen, obs_turkey_point, obs_battery,
              obs_kings_point, obs_bridgeport, obs_new_haven, obs_new_london,
              obs_quonset, obs_providence, obs_conimicut, obs_fall_river]

# ---------------- plot ----------------
fig, axes = plt.subplots(5, 4, figsize=(51.5, 19.5), dpi=100)
fig.subplots_adjust(left=0.0153, right=0.9994, top=0.981, bottom=0.02,
                    wspace=0.062, hspace=0.187)

for i, ax in enumerate(axes.flat):
    run = np.asarray(run_series[i], dtype=float)
    obs = np.concatenate([np.full(obs_missing_start[i], np.nan),
                          np.asarray(obs_series[i], dtype=float)])
    t_run = np.linspace(T_START, T_END, len(run))
    t_obs = np.linspace(T_START, T_END, len(obs))
    ax.plot(t_obs, obs, color="red", linestyle="-.", linewidth=1.6, label="Obs")
    ax.plot(t_run, run, color="blue", linestyle="-", linewidth=0.7, label="RUN100f")
    ax.set_xlim(T_START, T_END)
    ax.set_xticks(XTICKS)
    ax.set_xticklabels([str(v) for v in XTICKS])
    ax.set_title(f"station:{stations[i]}({station_ids[i]}) (datum:xGEOID)")
    if i % 2 == 0:
        ax.set_ylabel("Elevation (m)")
    if i == 0:
        ax.legend(loc="upper right")

fig.savefig("out.png", dpi=100)
